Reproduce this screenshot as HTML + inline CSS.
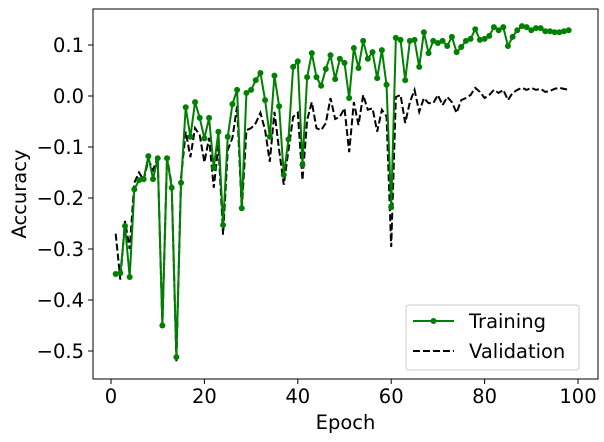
<!DOCTYPE html>
<html><head><meta charset="utf-8"><style>
body{margin:0;background:#fff}
svg{display:block;font-family:"DejaVu Sans","Liberation Sans",sans-serif}
</style></head><body>
<svg id="chart" width="604" height="442"></svg>
<script>
const epochs = Array.from({length:98},(_,i)=>i+1);
const training = [-0.349,-0.347,-0.255,-0.355,-0.183,-0.165,-0.163,-0.118,-0.163,-0.122,
-0.45,-0.122,-0.18,-0.512,-0.17,-0.022,-0.08,-0.012,-0.043,-0.083,
-0.043,-0.141,-0.07,-0.253,-0.08,-0.016,0.012,-0.22,0.006,0.012,
0.031,0.045,-0.008,-0.08,0.04,-0.02,-0.155,-0.085,0.057,0.068,
-0.135,0.037,0.084,0.037,0.02,0.053,0.08,0.033,0.073,0.065,
-0.004,0.094,0.055,0.108,0.073,0.086,0.035,0.09,0.022,-0.218,
0.114,0.11,0.031,0.108,0.11,0.057,0.125,0.084,0.108,0.104,
0.108,0.098,0.116,0.086,0.096,0.108,0.112,0.131,0.11,0.112,
0.118,0.135,0.129,0.135,0.098,0.116,0.129,0.137,0.135,0.129,
0.133,0.133,0.127,0.127,0.125,0.125,0.127,0.129];
const validation = [-0.27,-0.36,-0.245,-0.3,-0.17,-0.15,-0.165,-0.125,-0.145,-0.12,
-0.45,-0.12,-0.175,-0.52,-0.16,-0.07,-0.12,-0.063,-0.077,-0.13,
-0.082,-0.18,-0.096,-0.272,-0.106,-0.082,-0.02,-0.223,-0.067,-0.063,
-0.053,-0.033,-0.067,-0.129,-0.031,-0.106,-0.174,-0.106,-0.041,-0.033,
-0.165,-0.047,-0.012,-0.063,-0.067,-0.053,-0.004,-0.045,-0.041,-0.024,
-0.11,-0.012,-0.057,0.002,-0.027,-0.024,-0.07,-0.027,-0.04,-0.296,
-0.002,0.002,-0.053,-0.012,0.012,-0.031,-0.004,-0.014,-0.014,0.002,
-0.018,-0.002,-0.012,-0.033,-0.008,-0.004,0.002,0.016,0.008,-0.004,
0.002,0.012,0.006,0.012,-0.008,0.006,0.012,0.016,0.012,0.016,
0.012,0.014,0.008,0.010,0.014,0.016,0.014,0.012];
const xTicks = [0,20,40,60,80,100];
const yTicks = [0.1,0.0,-0.1,-0.2,-0.3,-0.4,-0.5];
const yTickLabels = ["0.1","0.0","\u22120.1","\u22120.2","\u22120.3","\u22120.4","\u22120.5"];

const NS="http://www.w3.org/2000/svg";
const svg=document.getElementById('chart');
const L=93,R=598,T=9,B=379;
const FS=19.5;
const xs=v=>111+v*4.67;
const ys=v=>96-v*510;
function mk(tag,attrs,parent){const e=document.createElementNS(NS,tag);for(const k in attrs)e.setAttribute(k,attrs[k]);(parent||svg).appendChild(e);return e;}

xTicks.forEach(t=>{
  const g=mk('g',{});
  
  
  mk('line',{x1:xs(t),x2:xs(t),y1:B,y2:B+5,stroke:'#000','stroke-width':1},g);
  const tx=mk('text',{x:xs(t),y:B+24,'font-size':FS,'text-anchor':'middle'},g);tx.textContent=t;
});
yTicks.forEach((t,i)=>{
  const g=mk('g',{});
  
  
  mk('line',{x1:L-5,x2:L,y1:ys(t),y2:ys(t),stroke:'#000','stroke-width':1},g);
  const tx=mk('text',{x:L-9,y:ys(t)+7,'font-size':FS,'text-anchor':'end'},g);tx.textContent=yTickLabels[i];
});

const vpath=mk('polyline',{points:epochs.map((e,i)=>xs(e)+','+ys(validation[i])).join(' '),fill:'none',stroke:'#000','stroke-width':2,'stroke-dasharray':'7,3'});


const tpath=mk('polyline',{points:epochs.map((e,i)=>xs(e)+','+ys(training[i])).join(' '),fill:'none',stroke:'#008000','stroke-width':2});


epochs.forEach((e,i)=>{
  const c=mk('circle',{cx:xs(e),cy:ys(training[i]),r:3,fill:'#008000'});
  
  
});

const frame=mk('rect',{x:L,y:T,width:R-L,height:B-T,fill:'none',stroke:'#000','stroke-width':1});



const xl=mk('text',{x:(L+R)/2,y:429,'font-size':FS,'text-anchor':'middle'});xl.textContent='Epoch';


const yl=mk('text',{x:0,y:0,'font-size':FS,'text-anchor':'middle',transform:'translate(26,194) rotate(-90)'});yl.textContent='Accuracy';



const lg=mk('g',{});


mk('rect',{x:406,y:305,width:173,height:65,rx:3,fill:'#fff',stroke:'#ccc','stroke-width':1},lg);
mk('line',{x1:413,x2:454,y1:321,y2:321,stroke:'#008000','stroke-width':2},lg);
mk('circle',{cx:433.5,cy:321,r:3,fill:'#008000'},lg);
const t1=mk('text',{x:469,y:328,'font-size':FS},lg);t1.textContent='Training';


mk('line',{x1:413,x2:454,y1:351,y2:351,stroke:'#000','stroke-width':2,'stroke-dasharray':'7,3'},lg);
const t2=mk('text',{x:469,y:358,'font-size':FS},lg);t2.textContent='Validation';


</script>
</body></html>
